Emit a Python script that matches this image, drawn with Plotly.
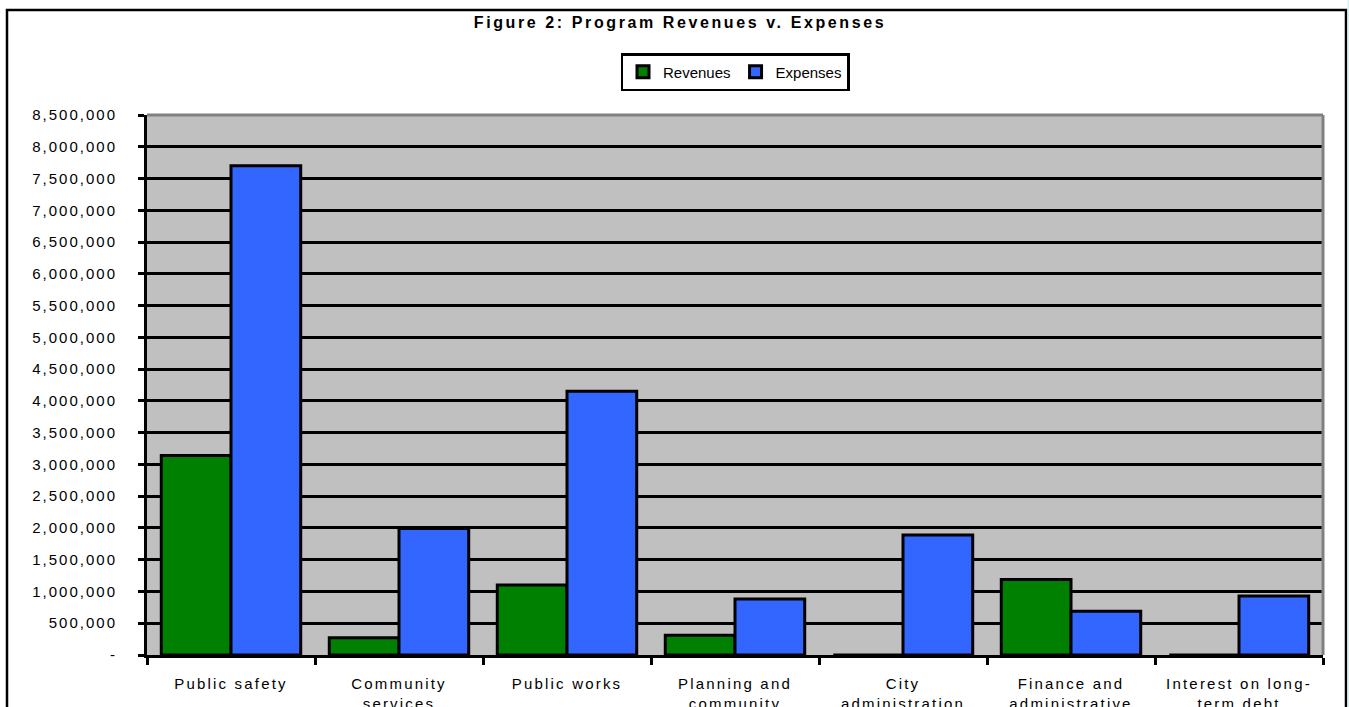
import plotly.graph_objects as go

categories = [
    "Public safety",
    "Community<br>services",
    "Public works",
    "Planning and<br>community<br>development",
    "City<br>administration",
    "Finance and<br>administrative<br>services",
    "Interest on long-<br>term debt",
]
revenues = [3140000, 270000, 1100000, 310000, 0, 1190000, 0]
expenses = [7700000, 1990000, 4150000, 880000, 1890000, 690000, 930000]

tick_values = [0, 500000, 1000000, 1500000, 2000000, 2500000, 3000000, 3500000,
               4000000, 4500000, 5000000, 5500000, 6000000, 6500000, 7000000,
               7500000, 8000000, 8500000]
tick_labels = ["-", "500,000", "1,000,000", "1,500,000", "2,000,000", "2,500,000",
               "3,000,000", "3,500,000", "4,000,000", "4,500,000", "5,000,000",
               "5,500,000", "6,000,000", "6,500,000", "7,000,000", "7,500,000",
               "8,000,000", "8,500,000"]

W, H = 1349, 707
L, R, T, B = 147, 1349 - 1323, 115, 707 - 655
pw, ph = W - L - R, H - T - B

def px(x):
    return (x - L) / pw

def py(y):
    return (H - B - y) / ph

FONT = "Liberation Sans, Arial, sans-serif"

fig = go.Figure()
fig.add_trace(go.Bar(name="Revenues", x=categories, y=revenues,
                     marker=dict(color="#008000", line=dict(color="black", width=3))))
fig.add_trace(go.Bar(name="Expenses", x=categories, y=expenses,
                     marker=dict(color="#3366FF", line=dict(color="black", width=3))))

fig.update_layout(
    width=W, height=H,
    margin=dict(l=L, r=R, t=T, b=B, pad=0, autoexpand=False),
    paper_bgcolor="white",
    plot_bgcolor="#C0C0C0",
    barmode="group",
    bargap=0.17,
    bargroupgap=0,
    font=dict(family=FONT, size=14, color="black"),
    title=dict(text="<b>Figure 2: Program Revenues v. Expenses</b>",
               x=680 / W, xref="container", xanchor="center",
               y=1 - 22 / H, yref="container", yanchor="middle",
               font=dict(family=FONT, size=16, color="black")),
    showlegend=True,
    legend=dict(orientation="h", x=0.5, xanchor="center", y=py(53), yanchor="top",
                bordercolor="black", borderwidth=2.5, bgcolor="white",
                font=dict(family=FONT, size=15, color="black"),
                itemwidth=30, traceorder="normal"),
    xaxis=dict(showgrid=False, showline=True, linecolor="black", linewidth=3,
               ticks="outside", tickson="boundaries", ticklen=7, tickwidth=3,
               tickcolor="black", tickfont=dict(family=FONT, size=15),
               ticklabelstandoff=13, automargin=False),
    yaxis=dict(range=[0, 8500000], tickvals=tick_values, ticktext=tick_labels,
               showgrid=True, gridcolor="black", gridwidth=3, zeroline=False,
               showline=True, linecolor="black", linewidth=3,
               ticks="outside", ticklen=6, tickwidth=3, tickcolor="black",
               tickfont=dict(family=FONT, size=15), ticklabelstandoff=18,
               automargin=False),
    shapes=[
        dict(type="line", xref="paper", yref="paper", x0=0, x1=1, y0=1, y1=1,
             line=dict(color="#808080", width=3), layer="above"),
        dict(type="line", xref="paper", yref="paper", x0=1, x1=1, y0=0, y1=1,
             line=dict(color="#808080", width=3), layer="above"),
        dict(type="rect", xref="paper", yref="paper",
             x0=px(7), x1=px(1346), y0=py(10), y1=py(760),
             line=dict(color="black", width=2.5), fillcolor="rgba(0,0,0,0)", layer="below"),
        dict(type="rect", xref="paper", yref="paper",
             x0=px(1347.5), x1=px(1352), y0=py(0), y1=py(760),
             line=dict(width=0), fillcolor="#D6F2F2", layer="below"),
    ],
)

post = """
var gd = document.getElementById('{plot_id}');
function spacing(){
  gd.querySelectorAll('.xtick text').forEach(function(t){t.style.letterSpacing='2.2px';});
  gd.querySelectorAll('.ytick text').forEach(function(t){t.style.letterSpacing='2px';});
  gd.querySelectorAll('.gtitle').forEach(function(t){t.style.letterSpacing='2.6px';});
}
spacing();
gd.on('plotly_afterplot', spacing);
"""

fig.write_html("out.html", post_script=post)
